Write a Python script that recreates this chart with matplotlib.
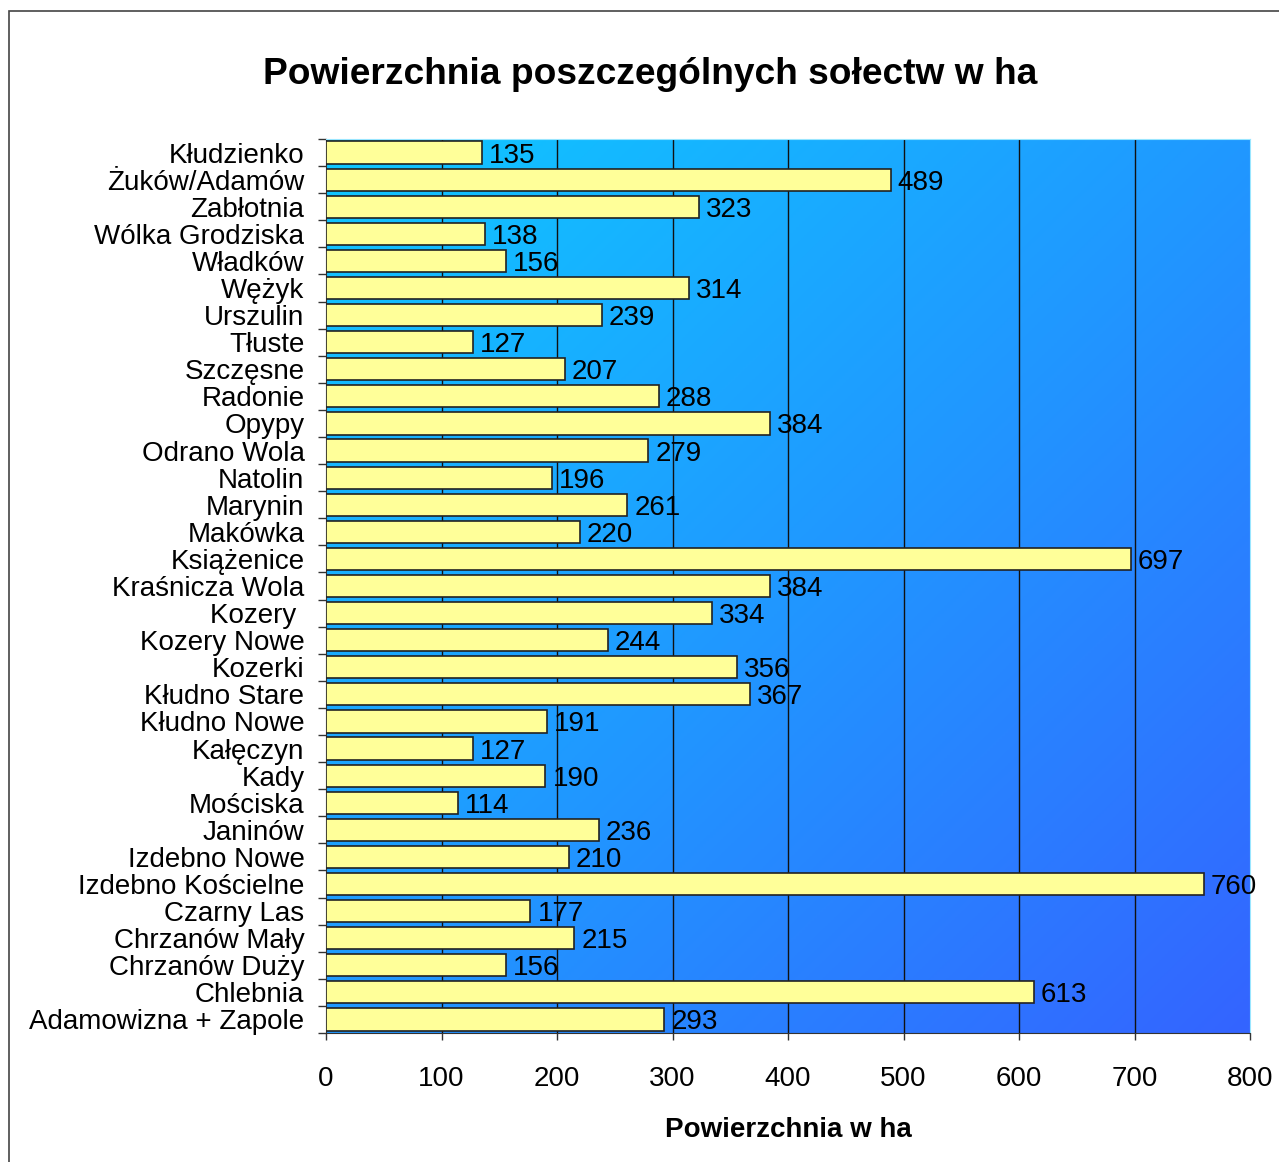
import numpy as np
import matplotlib.pyplot as plt
from matplotlib.colors import LinearSegmentedColormap
from matplotlib.patches import Rectangle

plt.rcParams['font.family'] = ['Liberation Sans', 'DejaVu Sans']

solectwa = [
    "Kłudzienko", "Żuków/Adamów", "Zabłotnia", "Wólka Grodziska", "Władków",
    "Wężyk", "Urszulin", "Tłuste", "Szczęsne", "Radonie", "Opypy",
    "Odrano Wola", "Natolin", "Marynin", "Makówka", "Książenice",
    "Kraśnicza Wola", "Kozery ", "Kozery Nowe", "Kozerki", "Kłudno Stare",
    "Kłudno Nowe", "Kałęczyn", "Kady", "Mościska", "Janinów", "Izdebno Nowe",
    "Izdebno Kościelne", "Czarny Las", "Chrzanów Mały", "Chrzanów Duży",
    "Chlebnia", "Adamowizna + Zapole",
]
powierzchnia = [
    135, 489, 323, 138, 156, 314, 239, 127, 207, 288, 384, 279, 196, 261,
    220, 697, 384, 334, 244, 356, 367, 191, 127, 190, 114, 236, 210, 760,
    177, 215, 156, 613, 293,
]
x_ticks = [0, 100, 200, 300, 400, 500, 600, 700, 800]

fig = plt.figure(figsize=(12.79, 11.62), dpi=100)
ax = fig.add_axes([326 / 1279, 1 - 1033 / 1162, 924 / 1279, 894 / 1162])

# diagonal gradient background of the plot area
cmap = LinearSegmentedColormap.from_list(
    "bg", [(15 / 255, 200 / 255, 1.0), (32 / 255, 152 / 255, 1.0), (52 / 255, 100 / 255, 1.0)])
gx, gy = np.meshgrid(np.linspace(0, 1, 300), np.linspace(0, 1, 300))
grad = (gx + gy) / 2
ax.imshow(grad, cmap=cmap, extent=[0, 1, 0, 1], transform=ax.transAxes,
          aspect="auto", origin="upper", zorder=0, interpolation="bilinear")

y = np.arange(len(solectwa))
bars = ax.barh(y, powierzchnia, height=0.82, color="#FFFF99",
               edgecolor="#222222", linewidth=1.2, zorder=3)
value_texts = ax.bar_label(bars, labels=[str(v) for v in powierzchnia],
                           padding=5, fontsize=20, zorder=4)
for t in value_texts:
    t.set_va("center_baseline")

ax.set_xlim(0, 800)
ax.set_ylim(len(solectwa) - 0.5, -0.5)
ax.set_xticks(x_ticks)
ax.set_xticklabels([str(t) for t in x_ticks], fontsize=20)
ax.set_yticks(y)
ax.set_yticklabels(solectwa, fontsize=20)
ax.set_yticks(np.arange(len(solectwa) + 1) - 0.5, minor=True)
ax.tick_params(axis="y", which="major", length=0, pad=15.5)
ax.tick_params(axis="y", which="minor", length=6, width=1, color="#333333")
ax.tick_params(axis="x", which="major", length=5, width=1, color="#333333",
               pad=19)

for t in x_ticks[1:-1]:
    ax.axvline(t, color="#111111", linewidth=1, zorder=1)

ax.spines["left"].set_color("#333333")
ax.spines["bottom"].set_color("#333333")
ax.spines["top"].set_color("#99E6FF")
ax.spines["right"].set_color("#99E6FF")

ax.set_xlabel("Powierzchnia w ha", fontsize=20, fontweight="bold", labelpad=18)
fig.text(0.508, 0.936, "Powierzchnia poszczególnych sołectw w ha",
         fontsize=26.7, fontweight="bold", ha="center", va="center")

fig.patches.append(Rectangle((9 / 1279, -0.1), 1.2, 1.1 - 11 / 1162,
                             transform=fig.transFigure, fill=False,
                             edgecolor="#444444", linewidth=1.2))

fig.savefig("out.png", dpi=100)
